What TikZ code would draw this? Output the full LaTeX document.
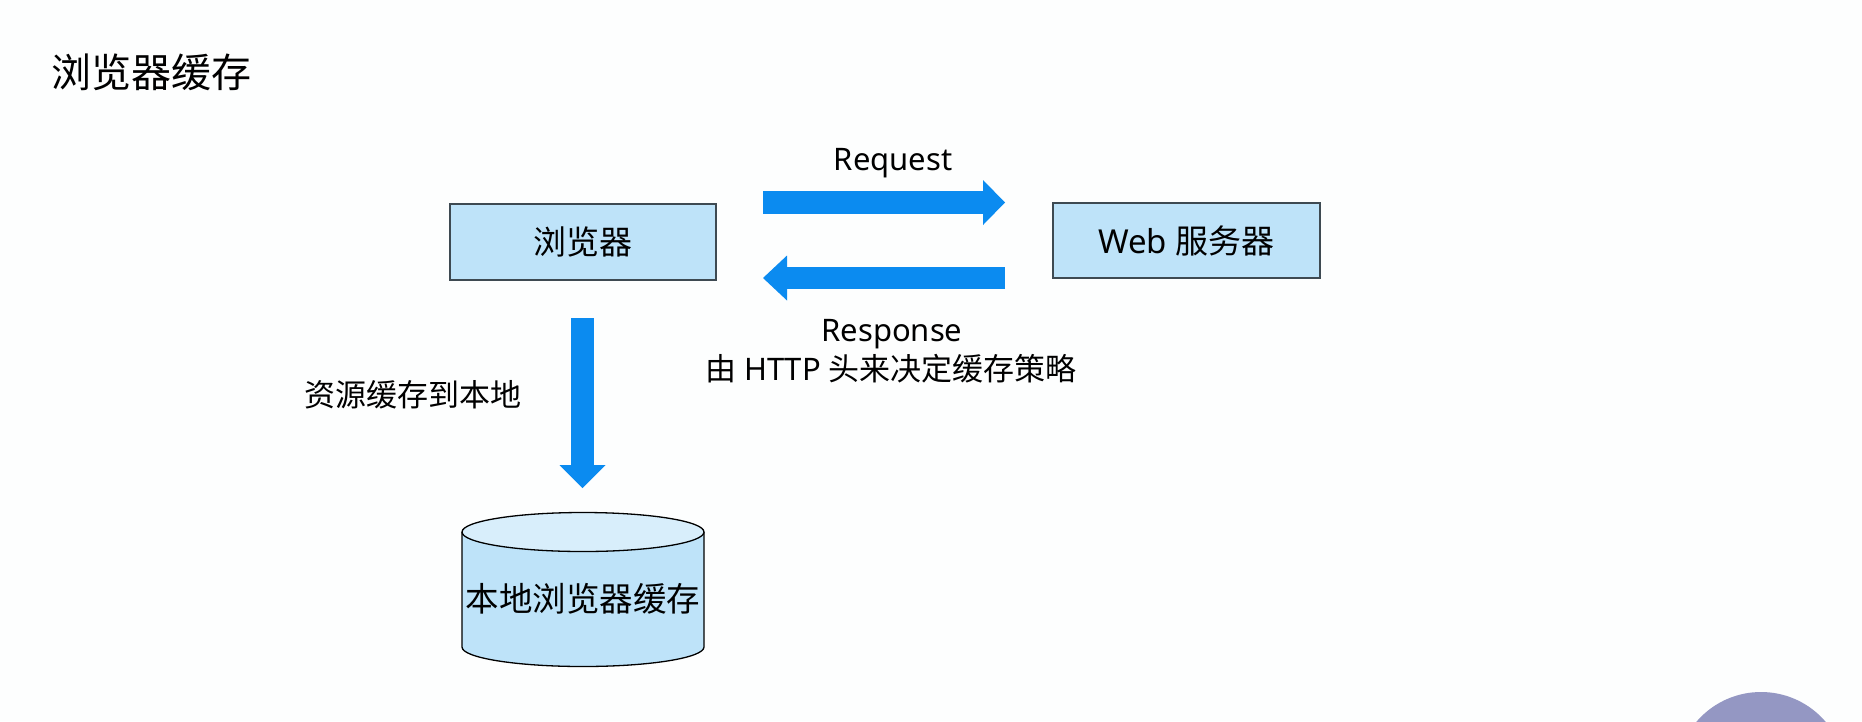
\documentclass[tikz,border=0pt]{standalone}
\usepackage{fontspec}
\setmainfont{Noto Sans}
\newfontfamily\cjk{Noto Sans CJK SC}
\usetikzlibrary{arrows.meta}
\definecolor{arrowblue}{HTML}{0B8BF0}
\definecolor{boxfill}{HTML}{BEE3F9}
\definecolor{boxline}{HTML}{3E4A52}
\definecolor{cyltop}{HTML}{D8EEFB}
\definecolor{dotpurple}{HTML}{9497C3}
\definecolor{bgcol}{HTML}{FDFEFE}
\begin{document}
\begin{tikzpicture}[x=1pt,y=1pt,
  server/.style={draw=boxline, line width=1.3pt, fill=boxfill, minimum width=266pt, minimum height=76pt, inner sep=0pt, font=\fontsize{33}{38}\selectfont},
  lbl/.style={anchor=base, inner sep=0pt, font=\fontsize{31}{36}\selectfont},
  flowh/.style={draw=arrowblue, line width=23pt, -{Triangle[length=22pt,width=45pt,line width=0pt]}},
  flowl/.style={draw=arrowblue, line width=22pt, -{Triangle[length=24pt,width=45pt,line width=0pt]}},
  flowd/.style={draw=arrowblue, line width=23pt, -{Triangle[length=23pt,width=46pt,line width=0pt]}}]
\useasboundingbox (0,0) rectangle (1862,-721);
\fill[bgcol] (0,0) rectangle (1862,-721);
\begin{scope}
\clip (0,0) rectangle (1862,-721);
\fill[dotpurple] (1761,-777) circle (85);
\end{scope}

% title
\node[anchor=base west, inner sep=0pt, font=\fontsize{40}{48}\selectfont] (title) at (51,-87) {\cjk 浏览器缓存};

% boxes
\node[server] (browser) at (583,-242) {\cjk 浏览器};
\node[server, minimum width=267pt, minimum height=75pt] (web) at (1186.5,-240.5) {Web {\cjk 服务器}};

% request / response arrows
\coordinate (rq1) at (763,-202.5);
\coordinate (rq2) at (1005,-202.5);
\coordinate (rs1) at (1005,-278);
\coordinate (rs2) at (763,-278);
\draw[flowh] (rq1) -- (rq2);
\draw[flowl] (rs1) -- (rs2);

\node[lbl] (req) at (893,-170) {Request};
\node[lbl] (resp) at (892,-341) {Response};
\node[lbl] (policy) at (891,-380) {{\cjk 由} HTTP {\cjk 头来决定缓存策略}};

% down arrow
\coordinate (d1) at (582.5,-318);
\coordinate (d2) at (582.5,-488);
\draw[flowd] (d1) -- (d2);
\node[anchor=base, inner sep=0pt, font=\fontsize{31}{36}\selectfont] (store) at (412.5,-406) {\cjk 资源缓存到本地};

% cylinder
\path[fill=boxfill, draw=black, line width=1.3pt] (462,-532) -- (462,-647)
  arc[start angle=180, end angle=360, x radius=121, y radius=19.5] -- (704,-532);
\path[fill=cyltop, draw=black, line width=1.3pt] (583,-532) ellipse [x radius=121, y radius=19.5];
\node[inner sep=0pt, font=\fontsize{33.5}{38}\selectfont] (cache) at (583,-599) {\cjk 本地浏览器缓存};
\end{tikzpicture}
\end{document}
